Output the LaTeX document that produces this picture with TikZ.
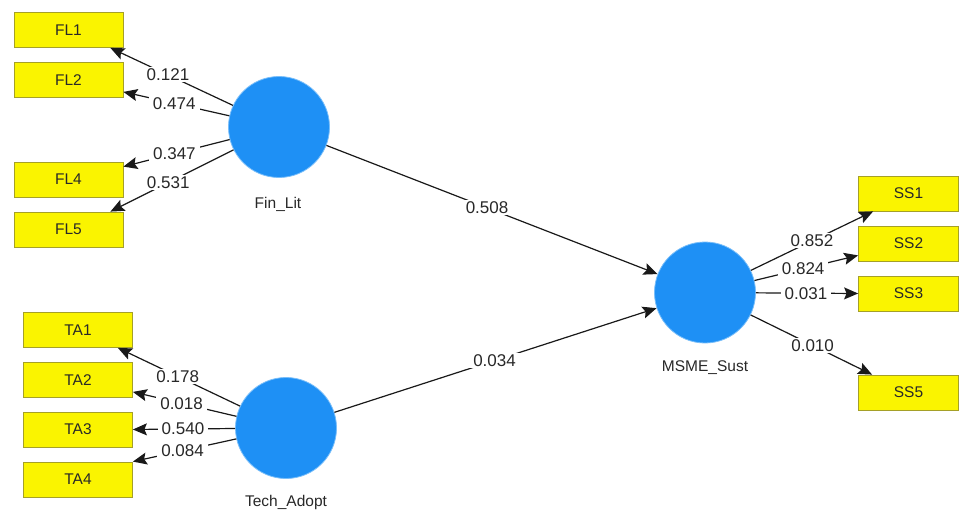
\documentclass[tikz,border=0pt]{standalone}
\usepackage{fontspec}
\setmainfont{Liberation Sans}
\usetikzlibrary{arrows.meta,calc}

\definecolor{itemfill}{RGB}{250,244,0}
\definecolor{itemedge}{RGB}{165,160,40}
\definecolor{lvfill}{RGB}{30,144,245}
\definecolor{lvedge}{RGB}{120,190,250}
\definecolor{txt}{RGB}{40,40,40}

\tikzset{
  item/.style={draw=itemedge, line width=0.8pt, fill=itemfill,
    minimum width=109pt, minimum height=35pt, inner sep=0pt,
    font=\fontsize{15.5}{15.5}\selectfont, text=txt},
  latent/.style={circle, draw=lvedge, line width=0.8pt, fill=lvfill,
    minimum size=101pt, inner sep=0pt},
  lvname/.style={font=\fontsize{15.5}{15.5}\selectfont, text=txt},
  path/.style={draw=black!90, line width=1.2pt,
    -{Stealth[length=14pt,width=12pt,inset=2.5pt]}},
  lbl/.style={fill=white, inner xsep=4pt, inner ysep=1.5pt,
    font=\fontsize{17}{17}\selectfont, text=txt}
}

\begin{document}
\begin{tikzpicture}[x=1pt,y=-1pt]
\useasboundingbox[fill=white] (0,0) rectangle (959,511);

% latent variables
\node[latent] (fin)  at (279,127)   {};
\node[latent] (tech) at (286,428)   {};
\node[latent] (msme) at (705,292.5) {};
\node[lvname] (finname)  at (278,204) {Fin\_Lit};
\node[lvname] (techname) at (286,502) {Tech\_Adopt};
\node[lvname] (msmename) at (705,368) {MSME\_Sust};

% indicators of Fin_Lit
\node[item] (fl1) at (68.5,30)    {FL1};
\node[item] (fl2) at (68.5,80)    {FL2};
\node[item] (fl4) at (68.5,179.5) {FL4};
\node[item] (fl5) at (68.5,229.5) {FL5};

% indicators of Tech_Adopt
\node[item] (ta1) at (78,330)   {TA1};
\node[item] (ta2) at (78,380)   {TA2};
\node[item] (ta3) at (78,429.5) {TA3};
\node[item] (ta4) at (78,479.5) {TA4};

% indicators of MSME_Sust
\node[item, minimum width=100pt] (ss1) at (908.5,193.5) {SS1};
\node[item, minimum width=100pt] (ss2) at (908.5,243.5) {SS2};
\node[item, minimum width=100pt] (ss3) at (908.5,293.5) {SS3};
\node[item, minimum width=100pt] (ss5) at (908.5,392.5) {SS5};

% arrow targets on the indicator boxes
\coordinate (fl1t) at ($(fl1.south east)+(-13,0)$);
\coordinate (fl2t) at ($(fl2.south east)+(0,-6)$);
\coordinate (fl4t) at ($(fl4.north east)+(0,5)$);
\coordinate (fl5t) at ($(fl5.north east)+(-13,0)$);
\coordinate (ta1t) at ($(ta1.south east)+(-15,0)$);
\coordinate (ta2t) at ($(ta2.south east)+(0,-6)$);
\coordinate (ta3t) at (ta3.east);
\coordinate (ta4t) at (ta4.north east);
\coordinate (ss1t) at ($(ss1.south west)+(15,0)$);
\coordinate (ss2t) at ($(ss2.south west)+(0,-6)$);
\coordinate (ss3t) at (ss3.west);
\coordinate (ss5t) at ($(ss5.north west)+(14,0)$);

% outer loadings
\draw[path] (fin) -- (fl1t) node[lbl,pos=0.53] {0.121};
\draw[path] (fin) -- (fl2t) node[lbl,pos=0.52] {0.474};
\draw[path] (fin) -- (fl4t) node[lbl,pos=0.52] {0.347};
\draw[path] (fin) -- (fl5t) node[lbl,pos=0.53] {0.531};

\draw[path] (tech) -- (ta1t) node[lbl,pos=0.51] {0.178};
\draw[path] (tech) -- (ta2t) node[lbl,pos=0.53] {0.018};
\draw[path] (tech) -- (ta3t) node[lbl,pos=0.51] {0.540};
\draw[path] (tech) -- (ta4t) node[lbl,pos=0.52] {0.084};

\draw[path] (msme) -- (ss1t) node[lbl,pos=0.50] {0.852};
\draw[path] (msme) -- (ss2t) node[lbl,pos=0.47] {0.824};
\draw[path] (msme) -- (ss3t) node[lbl,pos=0.49] {0.031};
\draw[path] (msme) -- (ss5t) node[lbl,pos=0.51] {0.010};

% structural paths
\draw[path] (fin)  -- (msme) node[lbl,pos=0.485] {0.508};
\draw[path] (tech) -- (msme) node[lbl,pos=0.497] {0.034};
\end{tikzpicture}
\end{document}
